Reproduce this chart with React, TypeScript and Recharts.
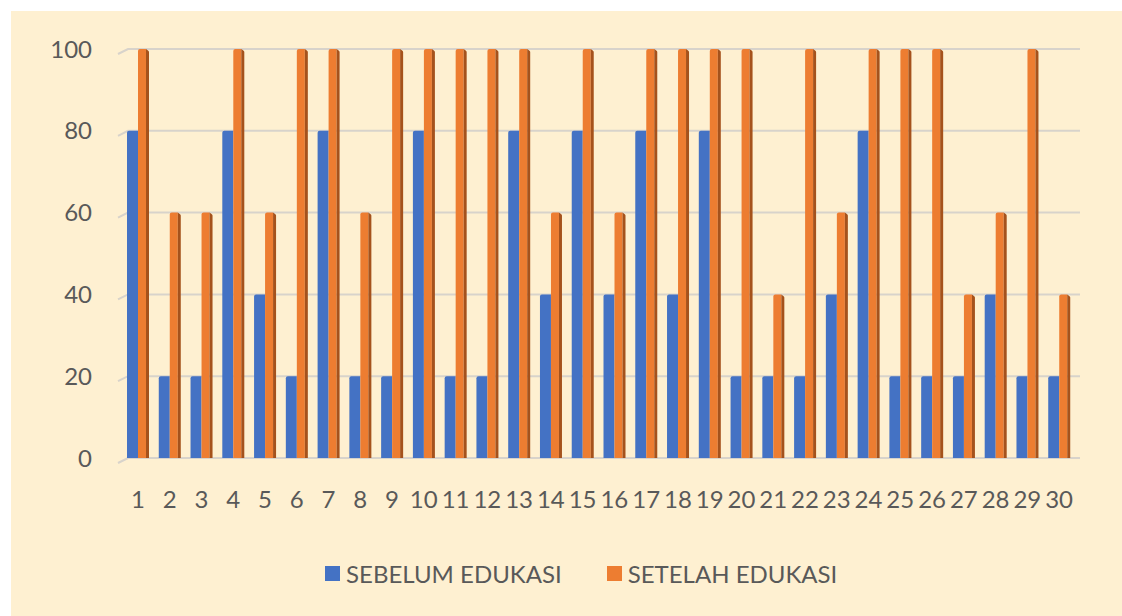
import React from "react";
import { BarChart, Bar, XAxis, YAxis, CartesianGrid, Legend } from "recharts";

const respondents = Array.from({ length: 30 }, (_, i) => String(i + 1));
const sebelum = [80, 20, 20, 80, 40, 20, 80, 20, 20, 80, 20, 20, 80, 40, 80, 40, 80, 40, 80, 20, 20, 20, 40, 80, 20, 20, 20, 40, 20, 20];
const setelah = [100, 60, 60, 100, 60, 100, 100, 60, 100, 100, 100, 100, 100, 60, 100, 60, 100, 100, 100, 100, 40, 100, 60, 100, 100, 100, 40, 60, 100, 40];
const yTicks = [0, 20, 40, 60, 80, 100];

const data = respondents.map((r, i) => ({ r, sebelum: sebelum[i], setelah: setelah[i] }));

const BLUE = "#4472C4";
const ORANGE = "#ED7D31";
const TEXT = "#595959";
const FONT = "Lato, 'Open Sans', sans-serif";

// kolom "3D" ala Excel: muka depan + sisi kanan gelap
function Column3D(props: any) {
  const { x, y, width, height, fill, side } = props;
  if (!height || height <= 0) return null;
  const sw = side ? 3 : 0;
  const fw = width - sw;
  const r = 2;
  const front = `M${x},${y + height} L${x},${y + r} Q${x},${y} ${x + r},${y} L${x + fw},${y} L${x + fw},${y + height} Z`;
  return (
    <g>
      <path d={front} fill={fill} />
      {side ? <path d={`M${x + fw},${y} L${x + width - 1},${y + 1.5} Q${x + width},${y + 2} ${x + width},${y + 3} L${x + width},${y + height} L${x + fw},${y + height} Z`} fill={side} /> : null}
    </g>
  );
}

function GridLine(props: any) {
  const { x1, x2, y1 } = props;
  return (
    <polyline
      key={props.key}
      points={`${x1 - 4},${y1 + 5} ${x1 + 6},${y1} ${x2 + 5},${y1}`}
      fill="none"
      stroke="#d8d3cb"
      strokeWidth={2}
    />
  );
}

function LegendBox() {
  const items = [
    { label: "SEBELUM EDUKASI", color: BLUE },
    { label: "SETELAH EDUKASI", color: ORANGE },
  ];
  return (
    <div style={{ display: "flex", justifyContent: "flex-start", paddingLeft: 314, gap: 45, fontFamily: FONT, fontSize: 24, color: TEXT, height: 40, alignItems: "center" }}>
      {items.map(it => (
        <div key={it.label} style={{ display: "flex", alignItems: "center", gap: 6 }}>
          <div style={{ width: 15, height: 15, background: it.color }} />
          <span>{it.label}</span>
        </div>
      ))}
    </div>
  );
}

export default function App() {
  return (
    <div style={{ position: "fixed", left: 0, top: 0, width: 1122, height: 616, background: "#fff" }}>
      <div style={{ position: "absolute", left: 11, top: 11, width: 1111, height: 605, background: "#FEF0D1" }}>
        <BarChart
          width={1111}
          height={605}
          data={data}
          margin={{ top: 38, right: 47, left: 0, bottom: 0 }}
          barGap={0}
          barSize={11}
        >
          <CartesianGrid vertical={false} horizontal={GridLine as any} />
          <XAxis
            dataKey="r"
            axisLine={false}
            tickLine={false}
            tickSize={0}
            tickMargin={33}
            height={118}
            interval={0}
            tick={{ fontSize: 24, fill: TEXT, fontFamily: FONT }}
          />
          <YAxis
            domain={[0, 100]}
            ticks={yTicks}
            axisLine={false}
            tickLine={false}
            tickSize={0}
            tickMargin={30}
            width={111}
            tick={{ fontSize: 24, fill: TEXT, fontFamily: FONT }}
          />
          <Legend verticalAlign="bottom" wrapperStyle={{ bottom: 23, left: 0, width: 1111 }} content={() => <LegendBox />} />
          <Bar dataKey="sebelum" name="SEBELUM EDUKASI" fill={BLUE} isAnimationActive={false}
            shape={(p: any) => <Column3D {...p} fill={BLUE} />} />
          <Bar dataKey="setelah" name="SETELAH EDUKASI" fill={ORANGE} isAnimationActive={false}
            shape={(p: any) => <Column3D {...p} fill={ORANGE} side="#A5521C" />} />
        </BarChart>
      </div>
    </div>
  );
}
